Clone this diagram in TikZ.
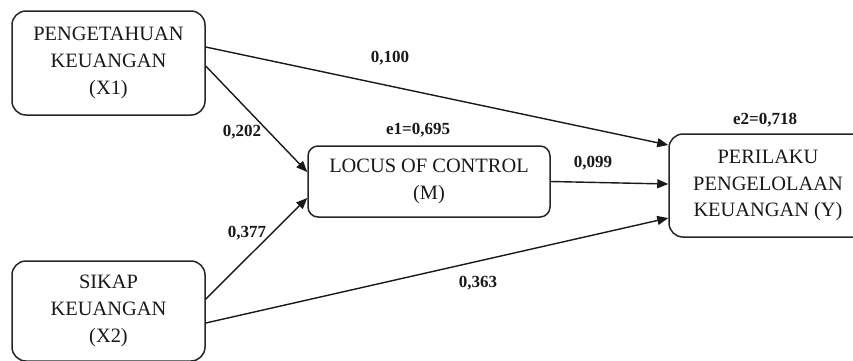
\documentclass[tikz,border=0pt]{standalone}
\usepackage{fontspec}
\setmainfont{Liberation Serif}
\usetikzlibrary{arrows.meta}
\tikzset{
  box/.style={draw=black!85, line width=1.5pt, rounded corners=14pt, align=center, inner sep=0pt,
    font=\fontsize{20.4}{26.7}\selectfont, text=black!90},
  lbl/.style={font=\bfseries\fontsize{17}{20}\selectfont, inner sep=0pt, text=black!90},
  conn/.style={line width=1.4pt, draw=black!90, -{Triangle[length=11pt,width=9pt]}},
}
\begin{document}
\begin{tikzpicture}[x=1pt,y=-1pt]
\clip (0,0) rectangle (853,360);
\fill[white] (0,0) rectangle (853,360);
\node[box, minimum width=193pt, minimum height=104pt] (x1) at (108.5,63) {PENGETAHUAN\\KEUANGAN\\(X1)};
\node[box, minimum width=193pt, minimum height=100pt] (x2) at (108.5,311) {SIKAP\\KEUANGAN\\(X2)};
\node[box, rounded corners=10pt, minimum width=242pt, minimum height=71pt] (m) at (429,181.5) {LOCUS OF CONTROL\\(M)};
\node[box, minimum width=198pt, minimum height=103pt] (y) at (768,185.5) {PERILAKU\\PENGELOLAAN\\KEUANGAN (Y)};

\draw[conn] ([yshift=16pt]x1.east) -- ([yshift=40.5pt]y.west);
\draw[conn] ([yshift=-3pt]x1.east) -- ([yshift=9.5pt]m.west);
\draw[conn] ([yshift=12pt]x2.east) -- ([yshift=-16.5pt]m.west);
\draw[conn] ([yshift=-12pt]x2.east) -- ([yshift=-32.5pt]y.west);
\draw[conn] (m.east) -- ([yshift=1.5pt]y.west);

\node[lbl] (l1) at (390,58) {0,100};
\node[lbl] (l2) at (242,132) {0,202};
\node[lbl] (l3) at (247,233) {0,377};
\node[lbl] (l4) at (478,283) {0,363};
\node[lbl] (l5) at (593,163) {0,099};
\node[lbl] (e1) at (418,130) {e1=0,695};
\node[lbl] (e2) at (765,120) {e2=0,718};
\end{tikzpicture}
\end{document}
